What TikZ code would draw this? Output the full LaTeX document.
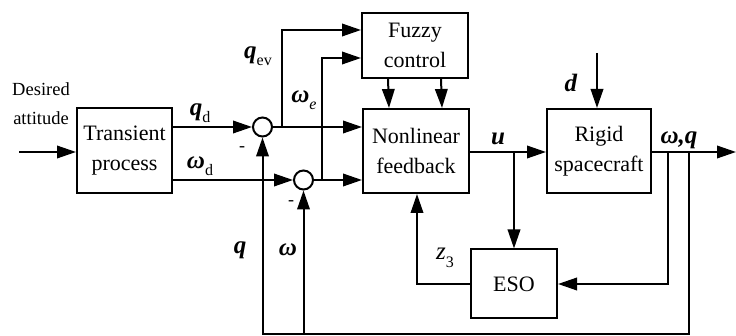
\documentclass[tikz,border=0pt]{standalone}
\usepackage{fontspec}
\setmainfont{Liberation Serif}
\usetikzlibrary{arrows.meta}
\newcommand\bv[1]{\textbf{\textit{#1}}}
\newcommand\sbs[1]{\raisebox{-0.3em}{\fontsize{16pt}{16pt}\selectfont #1}}
\begin{document}
\begin{tikzpicture}[x=1pt,y=-1pt,
  line width=2pt,
  arr/.style={-{Triangle[length=19pt,width=12.5pt]}},
  blk/.style={draw,line width=2pt,align=center,inner sep=0pt,font=\fontsize{22pt}{30pt}\selectfont},
  sumc/.style={draw,circle,line width=2pt,minimum size=19pt,inner sep=0pt},
  lab/.style={inner sep=0pt,font=\fontsize{25pt}{28pt}\selectfont}]
\useasboundingbox (0,0) rectangle (736,336);
% blocks
\node[blk,minimum width=95pt,minimum height=85pt] (tp) at (124.5,150.5) {Transient\\process};
\node[blk,minimum width=106pt,minimum height=65pt] (fz) at (415,45.5) {Fuzzy\\control};
\node[blk,minimum width=106pt,minimum height=84pt] (nf) at (416,151) {Nonlinear\\feedback};
\node[blk,minimum width=104pt,minimum height=84pt] (rs) at (599,151) {Rigid\\spacecraft};
\node[blk,minimum width=86pt,minimum height=69pt] (eso) at (514,284) {ESO};
\node[sumc] (s1) at (262.5,127) {};
\node[sumc] (s2) at (303.5,180) {};
% free ends / junctions
\coordinate (in) at (19,152);
\coordinate (b1) at (282,127);
\coordinate (b2) at (322,180);
\coordinate (dtop) at (597,53);
\coordinate (out) at (736,152);
\coordinate (ub) at (514,152);
\coordinate (fb1) at (668,152);
\coordinate (fb2) at (689,152);
\coordinate (qb) at (262.5,334);
% connectors
\draw[arr] (in) -- (in -| tp.west);
\draw[arr] (tp.east |- s1) -- (s1.west);
\draw[arr] (tp.east |- s2) -- (s2.west);
\draw[arr] (s1.east) -- (nf.west |- s1);
\draw[arr] (s2.east) -- (nf.west |- s2);
\draw[arr] (b1) |- ([yshift=15.5pt]fz.west);
\draw[arr] (b2) |- ([yshift=-12.5pt]fz.west);
\draw[arr] ([xshift=-27pt]fz.south) -- ([xshift=-27pt]nf.north);
\draw[arr] ([xshift=26pt]fz.south) -- ([xshift=26pt]nf.north);
\draw[arr] (nf.east |- ub) -- (rs.west |- ub);
\draw[arr] (dtop) -- (dtop |- rs.north);
\draw[arr] (rs.east |- out) -- (out);
\draw[arr] (ub) -- (eso.north);
\draw[arr] (fb1) |- (eso.east);
\draw[arr] (fb2) |- (qb) -- (s1.south);
\draw[arr] (s2 |- qb) -- (s2.south);
\draw[arr] (eso.west) -| ([xshift=1pt]nf.south);
% labels
\node[align=center,inner sep=0pt,font=\fontsize{18.5pt}{29pt}\selectfont] (da) at (41,104) {Desired\\attitude};
\node[lab] (lqd) at (200,113) {\bv{q}\sbs{d}};
\node[lab] (lwd) at (200,166) {\bv{ω}\sbs{d}};
\node[lab] (lqev) at (258,56) {\bv{q}\sbs{ev}};
\node[lab] (lwe) at (304,100) {\bv{ω}\sbs{\textit{e}}};
\node[lab] (lu) at (498,139) {\bv{u}};
\node[lab] (ld) at (571,83) {\bv{d}};
\node[lab] (lwq) at (679,140) {\bv{ω,q}};
\node[lab] (lq) at (240,250) {\bv{q}};
\node[lab] (lw) at (288,250) {\bv{ω}};
\node[lab] (lz) at (445,258) {\textit{z}\sbs{3}};
\node[inner sep=0pt,font=\fontsize{18pt}{18pt}\selectfont] (m1) at (242,149) {-};
\node[inner sep=0pt,font=\fontsize{18pt}{18pt}\selectfont] (m2) at (291,203) {-};
\end{tikzpicture}
\end{document}
